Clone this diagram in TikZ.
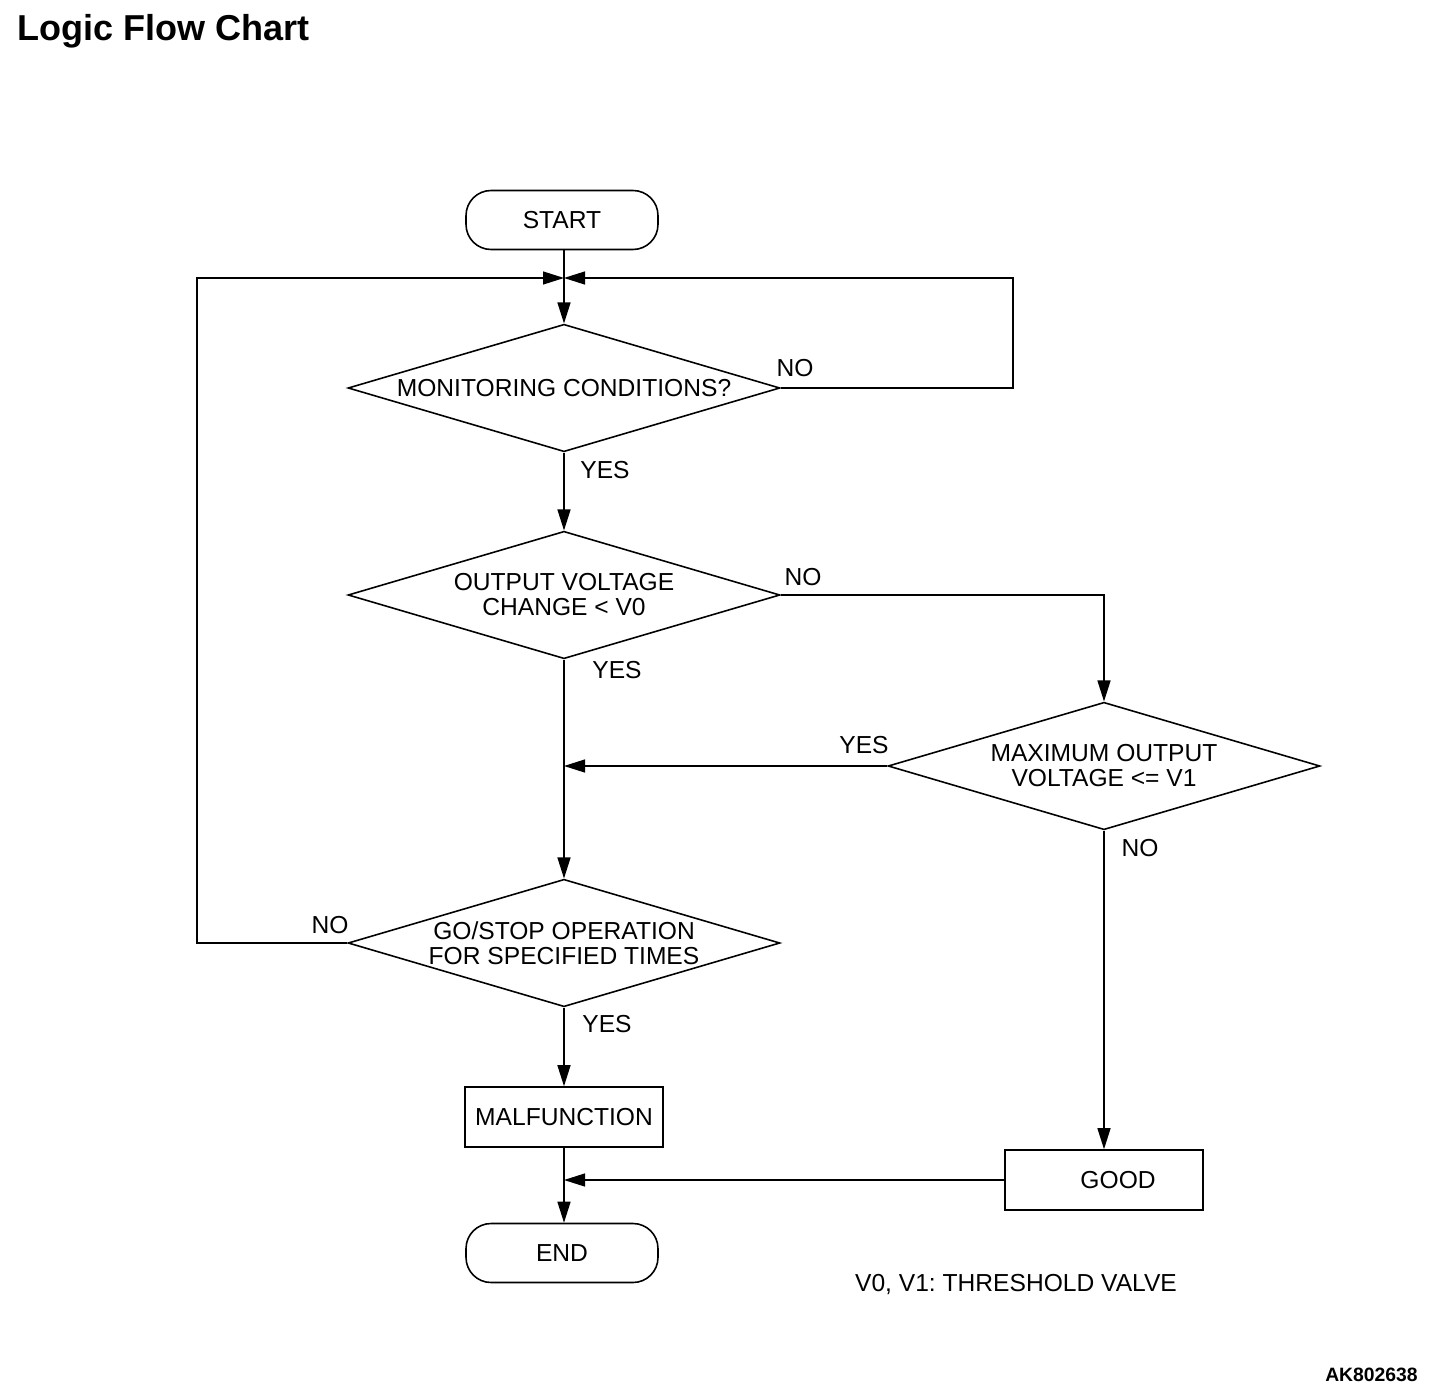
\documentclass[tikz,border=0pt]{standalone}
\usepackage{fontspec}
\setmainfont{Liberation Sans}
\usetikzlibrary{shapes.geometric, arrows.meta}
\frenchspacing

\begin{document}
\begin{tikzpicture}[x = 0.02cm, y = -0.02cm,
	> = {Triangle[length = 0.42cm, width = 0.26cm]},
	every node/.style = {font = \fontsize{14}{14.2}\selectfont},
	terminal/.style = {draw, line width = 0.9pt, rectangle, rounded corners = 0.5cm,
		minimum width = 3.84cm, minimum height = 1.18cm},
	process/.style = {draw, line width = 0.9pt, rectangle,
		minimum width = 3.96cm, minimum height = 1.2cm},
	decision/.style = {draw, line width = 0.9pt, diamond, aspect = 3.4, inner sep = 0pt,
		align = center, minimum width = 8.64cm, minimum height = 2.55cm},
	flow/.style = {line width = 0.75pt}]

	% Page

	\useasboundingbox (0, 0) rectangle (1456, 1398);

	\node [anchor = base west, inner sep = 0pt, font = \fontsize{20.5}{23}\selectfont\bfseries]
		(title) at (17, 41) {Logic Flow Chart};

	% Boxes

	\node [terminal] (start) at (562, 220) {START};
	\node [decision] (monitor) at (564, 388) {MONITORING CONDITIONS?};
	\node [decision] (change) at (564, 595) {OUTPUT VOLTAGE\\CHANGE < V0};
	\node [decision] (maxv) at (1104, 766) {MAXIMUM OUTPUT\\VOLTAGE <= V1};
	\node [decision] (gostop) at (564, 943) {GO/STOP OPERATION\\FOR SPECIFIED TIMES};
	\node [process] (malf) at (564, 1117) {MALFUNCTION};
	\node [process] (good) at (1104, 1180) {\hspace{16pt}GOOD};
	\node [terminal] (end) at (562, 1253) {END};

	% Junctions and corners

	\coordinate (join1) at (564, 278);
	\coordinate (join2) at (564, 766);
	\coordinate (join3) at (564, 1180);
	\coordinate (loopR) at (1013, 278);
	\coordinate (loopL) at (197, 278);

	% Connectors

	\draw [flow, ->] (start.south -| join1) -- (monitor.north);
	\draw [flow, ->] (monitor.east) -| (loopR) -- (join1);
	\draw [flow, ->] (monitor.south) -- (change.north);
	\draw [flow, ->] (change.east) -| (maxv.north);
	\draw [flow, ->] (maxv.west) -- (join2);
	\draw [flow, ->] (change.south) -- (gostop.north);
	\draw [flow, ->] (gostop.west) -| (loopL) -- (join1);
	\draw [flow, ->] (gostop.south) -- (malf.north);
	\draw [flow, ->] (maxv.south) -- (good.north);
	\draw [flow, ->] (malf.south) -- (end.north -| join3);
	\draw [flow, ->] (good.west) -- (join3);

	% Branch labels

	\node (no1) at (795, 368) {NO};
	\node (yes1) at (605, 470) {YES};
	\node (no2) at (803, 577) {NO};
	\node (yes2) at (617, 670) {YES};
	\node (yes3) at (864, 745) {YES};
	\node (no3) at (1140, 848) {NO};
	\node (no4) at (330, 925) {NO};
	\node (yes4) at (607, 1024) {YES};

	% Notes

	\node (note) at (1016, 1284) {V0, V1: THRESHOLD VALVE};
	\node [anchor = base east, inner sep = 0pt, font = \fontsize{11}{13}\selectfont\bfseries]
		(code) at (1418, 1381) {AK802638};

\end{tikzpicture}
\end{document}
